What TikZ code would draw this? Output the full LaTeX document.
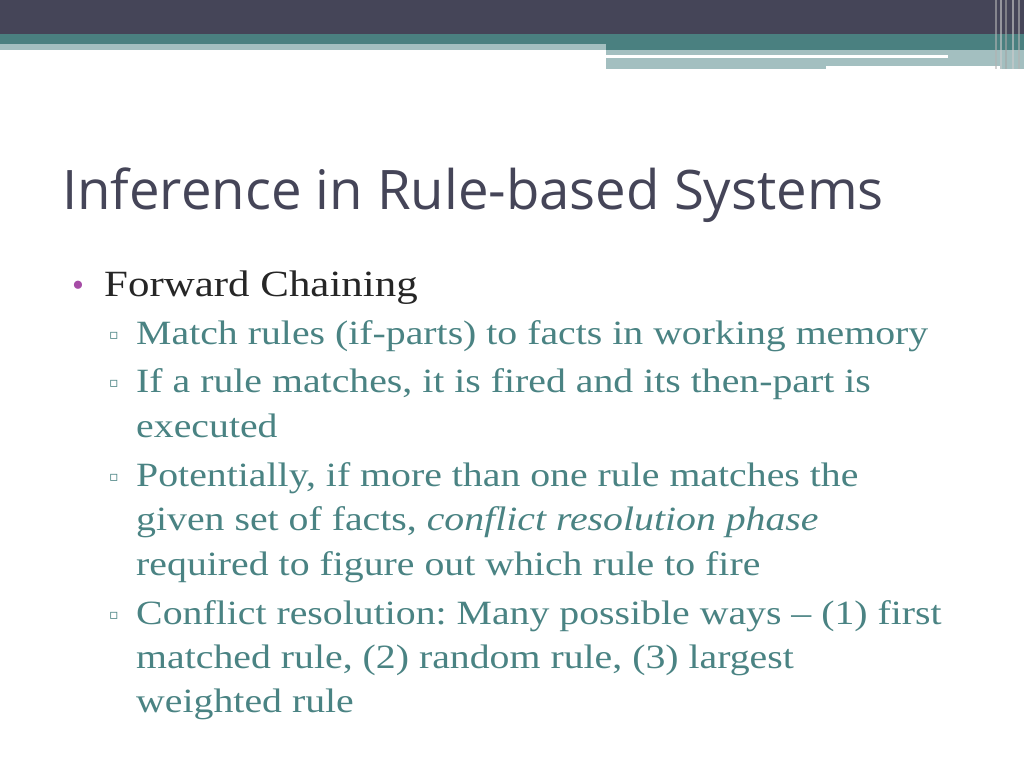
\documentclass[tikz,border=0pt]{standalone}
\usepackage{fontspec}
\setmainfont{Liberation Serif}
\newfontfamily\titlefont{Open Sans}
\newfontfamily\symfont{DejaVu Sans}
\definecolor{dark}{HTML}{454558}
\definecolor{teal1}{HTML}{4A8080}
\definecolor{lteal}{HTML}{A3BFC0}
\definecolor{txt}{HTML}{4A8383}
\begin{document}
\begin{tikzpicture}[x=1pt,y=-1pt,
  lvl1/.style={anchor=base west,font=\fontsize{37}{37}\selectfont,text=black!85,inner sep=0,xscale=1.16},
  lvl2/.style={anchor=base west,font=\fontsize{34}{34}\selectfont,text=txt,inner sep=0,xscale=1.17},
  bul/.style={anchor=base west,inner sep=0}]
\useasboundingbox (0,0) rectangle (1024,768);
\fill[white] (0,0) rectangle (1024,768);
\fill[dark] (0,0) rectangle (1024,34);
\fill[teal1] (0,34) rectangle (1024,50);
\fill[lteal] (0,44) rectangle (606,50);
\fill[lteal] (606,50) rectangle (1024,69);
\fill[white] (606,55) rectangle (948,58);
\fill[white] (826,66) rectangle (1000,69);
\foreach \x/\c in {995/gray!60,1000/gray!40,1005/gray!70,1012/gray!40,1018/gray!60}
  \fill[\c,opacity=0.6] (\x,0) rectangle ++(2,69);
\node[anchor=base west,inner sep=0,font=\titlefont\fontsize{54.5}{54.5}\selectfont,text=dark] (title) at (62,209) {Inference in Rule-based Systems};
\node[bul,text=violet!70,font=\fontsize{34}{34}\selectfont] (b1) at (72,296) {•};
\node[lvl1] (t1) at (104,296) {Forward Chaining};
\foreach \n/\y in {s1/344,s2/392,s3/486,s4/624}
  \node[bul,text=txt,font=\symfont\fontsize{14}{14}\selectfont] (\n) at (109,\y-5) {▫};
\node[lvl2] (a1) at (136,344) {Match rules (if-parts) to facts in working memory};
\node[lvl2] (a2) at (136,392) {If a rule matches, it is fired and its then-part is};
\node[lvl2] (a3) at (136,437) {executed};
\node[lvl2] (a4) at (136,486) {Potentially, if more than one rule matches the};
\node[lvl2] (a5) at (136,530) {given set of facts, \textit{conflict resolution phase}};
\node[lvl2] (a6) at (136,575) {required to figure out which rule to fire};
\node[lvl2] (a7) at (136,624) {Conflict resolution:~Many possible ways -- (1) first};
\node[lvl2] (a8) at (136,668) {matched rule, (2) random rule, (3) largest};
\node[lvl2] (a9) at (136,712) {weighted rule};
\end{tikzpicture}
\end{document}
